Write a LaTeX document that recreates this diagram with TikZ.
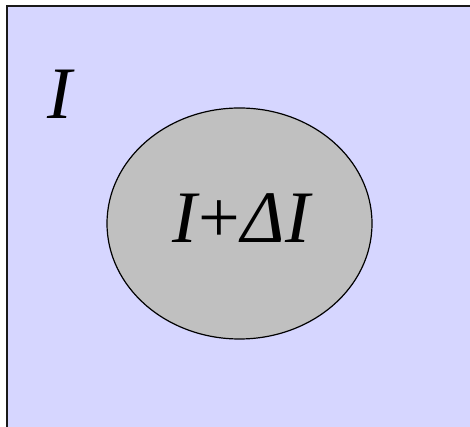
\documentclass[tikz,border=0pt]{standalone}
\usepackage{fontspec}
\setmainfont{Liberation Serif}
\usetikzlibrary{shapes.geometric}
\definecolor{bgblue}{HTML}{D6D6FF}
\definecolor{discgray}{HTML}{C0C0C0}
\tikzset{
  bigtext/.style={font=\fontsize{74}{80}\selectfont, inner sep=0pt},
}
\begin{document}
\begin{tikzpicture}[x=1pt,y=1pt]
\useasboundingbox (0,0) rectangle (470,427);
\begin{scope}
\clip (0,0) rectangle (470,427);
\draw[line width=2pt, draw=black!90, fill=bgblue] (6.5,420.5) rectangle (490,-20);
\end{scope}
\node[draw=black, line width=1.2pt, fill=discgray, ellipse, minimum width=265pt, minimum height=231pt, inner sep=0pt] (disc) at (239.5,203.5) {};
\node[bigtext, anchor=base] (inner) at (241,184) {\itshape I\kern2pt\upshape +\kern1pt\itshape ΔI};
\node[bigtext, anchor=base west] (outer) at (47,308) {\itshape I};
\end{tikzpicture}
\end{document}
